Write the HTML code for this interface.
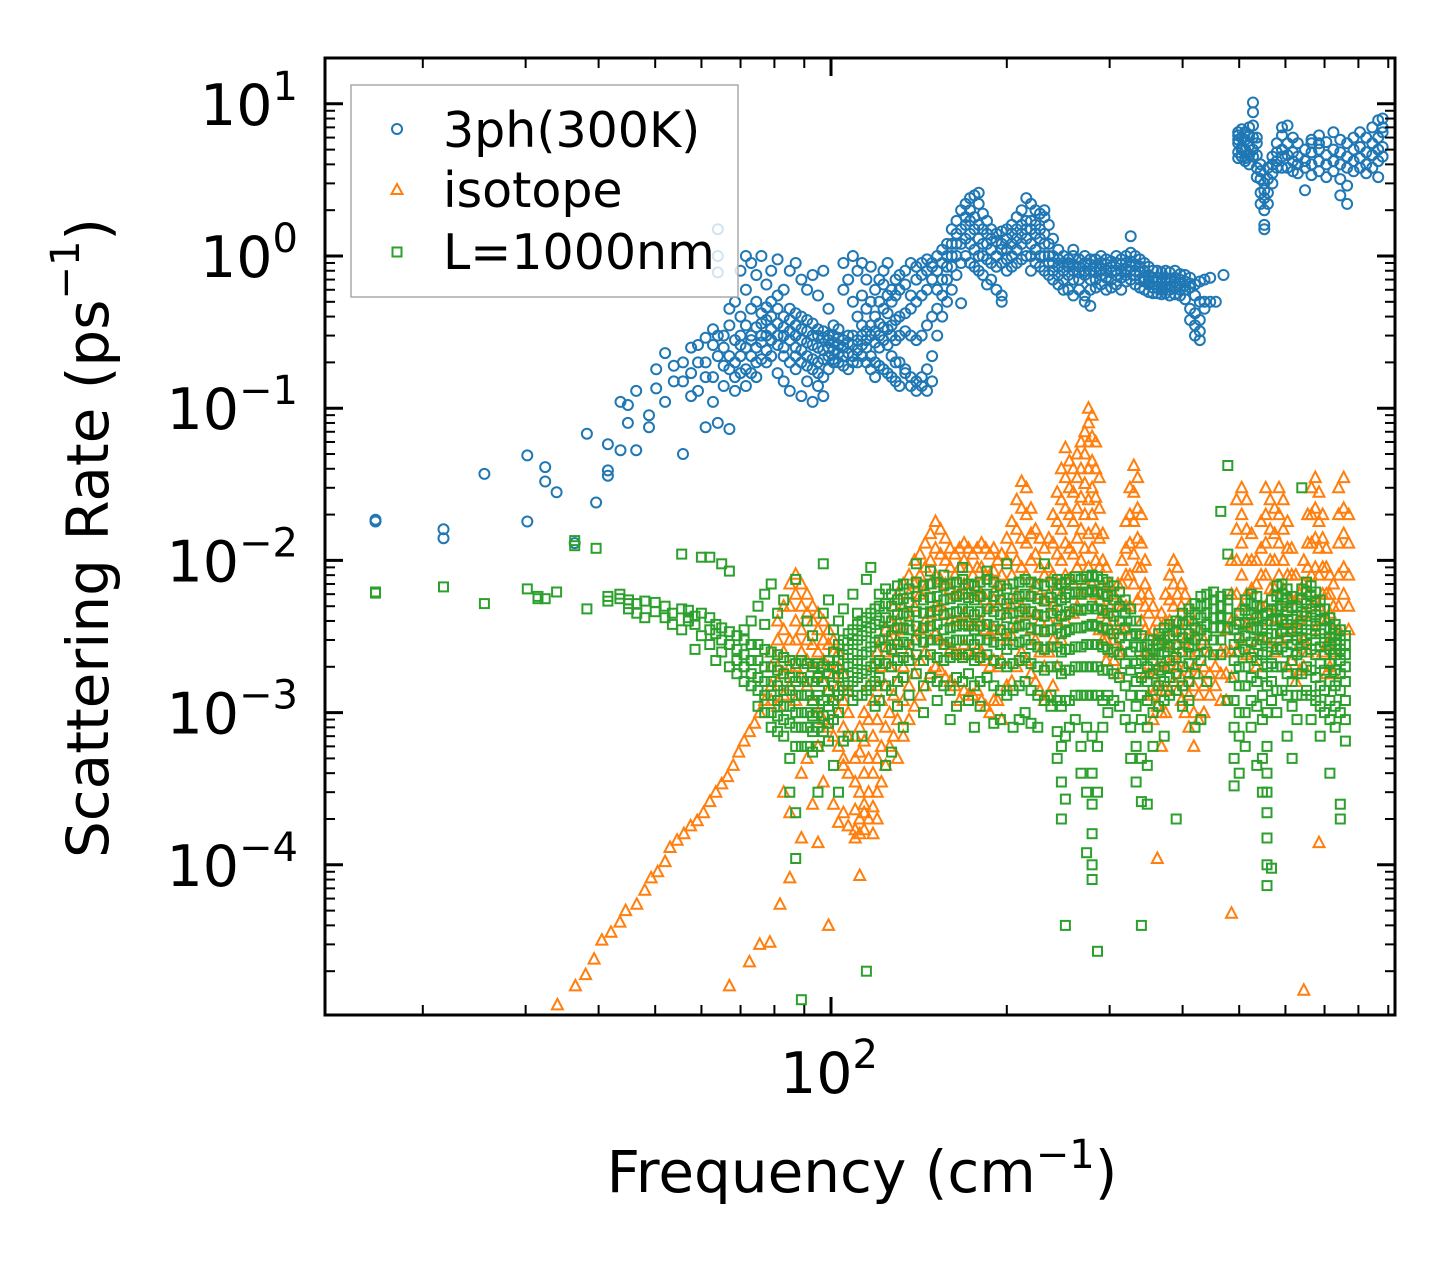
<!DOCTYPE html>
<html><head><meta charset="utf-8">
<style>
html,body{margin:0;padding:0;background:#fff;}
svg{display:block;font-family:"DejaVu Sans","Liberation Sans",sans-serif;}
</style></head>
<body>
<svg id="chart" xmlns="http://www.w3.org/2000/svg" width="1455" height="1265" viewBox="0 0 1455 1265">
<rect x="0" y="0" width="1455" height="1265" fill="#fff"/>
<g id="marks"></g>
<g id="axes"></g>
<text x="92" y="538" transform="rotate(-90 92 538)" text-anchor="middle" font-size="58" fill="#000" dominant-baseline="middle">Scattering Rate (ps<tspan font-size="40" dy="-24">−1</tspan><tspan dy="24">)</tspan></text>
<text x="862" y="1192" text-anchor="middle" font-size="58" fill="#000">Frequency (cm<tspan font-size="40" dy="-24">−1</tspan><tspan dy="24">)</tspan></text>
<g id="legend">
<rect x="351" y="85" width="387" height="212" fill="#fff" fill-opacity="0.8" stroke="#aaa" stroke-width="1.5"/>
<circle cx="397" cy="129" r="5" fill="none" stroke="#1f77b4" stroke-width="2"/>
<text x="443" y="147" font-size="49" fill="#000">3ph(300K)</text>
<polygon points="397,184 402.5,194 391.5,194" fill="none" stroke="#ff7f0e" stroke-width="2"/>
<text x="443" y="207" font-size="49" fill="#000">isotope</text>
<rect x="392.5" y="247.5" width="9" height="9" fill="none" stroke="#2ca02c" stroke-width="2"/>
<text x="443" y="269" font-size="49" fill="#000">L=1000nm</text>
</g>
</svg>
<script>
// Data: [frequency (cm^-1), [scattering rates (ps^-1)...]]
const blueData = [
[16.6,[.018,.0185]],[21.7,[.016,.014]],[25.5,[.037]],[30.2,[.018,.049]],[32.4,[.041,.033]],[33.9,[.028]],[36.4,[.013]],[38.2,[.068]],[39.6,[.024]],[41.5,[.058,.039,.036]],
[43.6,[.053,.11]],[44.9,[.105,.08]],[46.4,[.053,.13]],[48.8,[.075,.09]],[50.2,[.135,.18]],[52,[.23,.11]],[53.8,[.15,.19]],[55.8,[.05,.2,.15]],[57.6,[.12,.17,.25]],[59.2,[.13,.26,.2]],
[61,[.2,.075,.16,.29]],[62.8,[.26,.16,.11,.33]],[64,[1.5,1.0,.78,.08,.22,.3]],[65.5,[.3,.19,.14,.25]],[67,[.073,.22,.45,.18,.35]],[68.5,[.28,.2,.5,.16,.13]],[70,[.22,.3,.8,.4,.17,.26]],
[71.5,[.25,1.0,.6,.35,.18,.14]],[73,[.3,.9,.45,.22,.28,.17]],[74.5,[.34,.75,.5,.25,.2,.16]],[76,[.3,1.0,.42,.27,.21,.36]],[77.5,[.38,.65,.3,.46,.24,.2]],[79,[.33,.8,.5,.28,.4,.22]],
[81,[.36,.95,.45,.3,.26,.55,.17]],[83,[.4,.3,.34,.25,.6,.22,.15]],[85,[.38,.45,.32,.28,.8,.2,.13]],[87,[.35,.42,.3,.25,.9,.22,.18]],[89,[.33,.4,.28,.24,.7,.2,.12]],
[91,[.32,.38,.27,.22,.6,.19,.15]],[93,[.3,.36,.26,.21,.75,.18,.11]],[95,[.3,.33,.25,.2,.55,.17,.14]],[97,[.29,.32,.24,.21,.8,.16,.12]],[99,[.28,.3,.25,.22,.45,.18]],
[101,[.27,.3,.24,.21,.35,.2]],[103,[.26,.29,.23,.33,.2]],[105,[.25,.28,.22,.6,.9,.19]],[107,[.23,.27,.3,.7,.18]],[109,[.22,.26,.2,.5,1.0,.3]],[111,[.24,.28,.4,.8,.2]],
[113,[.26,.3,.35,.55,.9,.22]],[115,[.28,.32,.25,.45,.7,.2]],[117,[.3,.35,.22,.5,.85,.18]],[119,[.32,.27,.4,.6,.2,.16]],[121,[.3,.36,.25,.5,.7,.19]],[123,[.34,.28,.45,.65,.8,.18]],
[125,[.33,.26,.42,.55,.9,.17]],[127,[.35,.3,.22,.5,.6,.16]],[129,[.38,.28,.2,.55,.7,.15]],[131,[.4,.3,.2,.6,.75,.14]],[134,[.42,.32,.18,.65,.8,.17]],[137,[.45,.3,.16,.55,.9,.14]],
[140,[.5,.28,.15,.7,.85,.13]],[143,[.55,.3,.16,.75,.9,.14]],[146,[.6,.35,.18,.8,.95,.13]],[149,[.7,.4,.22,.9,.85,.15]],[152,[.8,.45,.3,1.0,.6]],[155,[.9,.55,.4,1.1,.7]],
[158,[1.0,.7,.5,1.2,.85]],[161,[1.2,.85,.6,1.5,1.0]],[164,[1.4,1.0,1.7,1.2,.75]],[167,[1.5,1.2,2.0,.9,.49]],[170,[1.6,1.3,2.2,1.0,1.8]],[173,[1.7,1.4,2.0,1.2,.9,2.4]],
[176,[1.8,1.5,2.5,1.1,.85]],[179,[1.6,1.3,2.2,1.0,.8,2.6]],[182,[1.5,1.2,1.9,1.0,.75]],[185,[1.4,1.2,1.7,.95,.65]],[188,[1.3,1.1,1.5,.9,.7]],[192,[1.25,1.0,1.4,.85,.6]],
[196,[1.2,1.1,1.45,.9,.55,.5]],[200,[1.3,1.1,1.5,.95,.8]],[204,[1.4,1.2,1.6,1.0,.85]],[208,[1.5,1.3,1.8,1.1,.9]],[212,[1.6,1.4,2.0,1.2,.95]],[216,[1.7,1.5,2.4,1.3,1.0]],
[220,[1.7,1.5,2.2,1.2,1.0,.8]],[224,[1.6,1.4,2.0,1.1,.9]],[228,[1.5,1.3,1.9,1.0,.85]],[232,[1.4,1.2,1.8,1.0,.8,2.0]],[236,[1.2,1.0,1.6,.9,.75]],[240,[1.0,.9,1.3,.8,.7]],
[245,[.95,.85,1.1,.75,.65]],[250,[.9,.8,1.0,.7,.6]],[255,[.9,.85,.95,.75,.6]],[260,[.88,.8,1.0,.7,.55,1.1]],[266,[.85,.78,.95,.7,.6]],[272,[.9,.8,1.0,.75,.55,.5]],
[278,[.88,.8,.95,.7,.6,.47]],[284,[.85,.78,.95,.7,.62]],[290,[.9,.82,1.0,.75,.65]],[296,[.88,.8,.95,.72,.6]],[302,[.85,.78,.92,.7,.62]],[308,[.9,.8,1.0,.75,.65]],
[314,[.88,.8,.95,.72,.6]],[320,[.9,.82,1.0,.75,.68]],[326,[.92,.85,1.05,.8,.7,1.35]],[332,[.88,.8,1.0,.75,.65]],[338,[.85,.78,.95,.7,.62]],[344,[.8,.72,.9,.68,.6]],
[350,[.75,.7,.85,.65,.58]],[356,[.72,.68,.8,.62,.57]],[362,[.72,.68,.8,.62,.57]],[368,[.7,.66,.78,.6,.56]],[374,[.72,.68,.8,.62,.57]],[380,[.7,.66,.78,.6,.55]],
[388,[.72,.68,.8,.62,.56]],[396,[.7,.66,.76,.6,.55]],[404,[.68,.64,.75,.6,.52]],[412,[.66,.62,.72,.45,.38]],[420,[.65,.42,.35,.3,.55]],[428,[.68,.38,.32,.28,.5]],
[436,[.7,.5,.45]],[446,[.5,.72]],[456,[.5]],[470,[.75]],
[498,[6.5,5.5,4.8,5.8,4.4,6.2]],[505,[6.0,5.2,4.5,6.8,5.0]],[512,[5.8,5.0,4.4,6.5,4.2]],[520,[6.2,5.3,4.6,7.0,4.0]],[528,[7.2,6.0,5.0,8.8,10.2,4.5]],
[536,[5.5,4.6,3.8,6.0,3.3]],[544,[4.0,3.2,2.6,3.6,2.2]],[552,[3.0,2.4,2.0,2.7,1.5,1.6]],[560,[3.2,2.6,3.8,2.2]],[570,[4.0,3.5,4.5,3.0]],[580,[4.8,4.2,5.5,3.8]],
[592,[5.0,4.5,6.2,3.8,7.0]],[605,[5.5,4.6,7.2,3.8]],[618,[4.8,4.2,6.0,3.6]],[630,[4.5,4.0,5.5,3.5]],[648,[4.2,3.8,5.0,2.7]],[665,[4.8,4.0,5.8,3.4,5.5]],
[685,[5.0,4.2,6.2,3.6,5.5]],[705,[4.6,4.0,5.6,3.3]],[725,[5.0,4.2,6.5,3.6]],[745,[4.8,4.0,5.8,3.2,2.5]],[765,[4.5,3.8,5.5,2.9,2.2]],[785,[5.0,4.2,6.0,3.6]],
[805,[5.2,4.4,6.5,3.8]],[825,[4.8,4.0,6.0,3.5]],[845,[5.5,4.6,7.0,3.8]],[865,[6.0,5.0,7.8,4.2,3.3]],[880,[6.5,5.2,8.0,4.5,7.0]]
];
const orangeData = [
[34,[1.2e-5]],[36.5,[1.6e-5]],[38,[1.9e-5]],[39.3,[2.4e-5]],[40.5,[3.2e-5]],[42,[3.6e-5]],[43.5,[4.2e-5]],[44.5,[5.0e-5]],[46.5,[5.5e-5]],[48,[6.8e-5]],
[49.2,[8.2e-5]],[50.5,[9.0e-5]],[52,[1.05e-4]],[53,[1.3e-4]],[54.5,[1.45e-4]],[56,[1.6e-4]],[57.5,[1.8e-4]],[59,[1.95e-4]],[60.5,[2.2e-4]],[62,[2.6e-4]],
[63.5,[3.0e-4]],[65,[3.4e-4]],[66.5,[3.8e-4]],[67,[1.6e-5]],[68,[4.5e-4]],[69.5,[5.5e-4]],[71,[6.5e-4]],[72.5,[7.5e-4,2.3e-5]],[74,[8.5e-4]],[75.5,[1.0e-3,3e-5]],[77,[1.2e-3]],
[78.6,[3.1e-5]],[81.8,[5.5e-5]],
[79,[.0015,.002,.0012,.0025]],[81,[.002,.003,.0016,.0011,.004]],[83,[.0025,.0035,.005,.0018,.0013,3e-4]],[85,[.003,.005,.007,.002,.0015,2.2e-4,8.2e-5]],
[87,[.004,.006,.0081,.003,.002,.0012]],[89,[.0035,.005,.007,.0025,.0017,4e-4,1.5e-4]],[91,[.003,.0045,.006,.0022,.0015,5e-4]],[93,[.0028,.004,.005,.002,.0012,2.5e-4]],
[95,[.0025,.0035,.0045,.0018,.001,6e-4,1.4e-4]],[97,[.0022,.003,.004,.0016,.0009,3.5e-4]],[99,[.002,.0028,.0035,.0014,8e-4,4e-5]],[101,[.0018,.0025,.003,.0012,7e-4,2.5e-4]],
[103,[.0015,.002,.0025,.001,6e-4,1.9e-4]],[105,[.0012,.0018,8e-4,5e-4,2.2e-4,4.5e-4]],[107,[.001,.0014,7e-4,4e-4,1.8e-4]],[110,[7e-4,5e-4,3.5e-4,2.3e-4,1.7e-4,1.5e-4]],
[112,[8e-4,5.5e-4,3e-4,2e-4,1.6e-4,8.5e-5]],[114,[.001,6.5e-4,4e-4,2.2e-4,1.7e-4,2.5e-4]],[116,[.0015,9e-4,5e-4,3e-4,2e-4]],[118,[.002,.0012,7e-4,4e-4,2.4e-4,1.6e-4]],
[120,[.0025,.0015,9e-4,5e-4,3e-4,2e-4]],[122,[.003,.002,.0012,6e-4,3.5e-4]],[124,[.0035,.0025,.0015,8e-4,4.5e-4]],[126,[.004,.003,.002,.001,6e-4]],
[128,[.005,.0035,.0025,.0013,7e-4]],[130,[.006,.004,.003,.0016,9e-4,5e-4]],[133,[.007,.005,.0035,.002,.0012,7e-4]],[136,[.008,.006,.004,.0025,.0015,9e-4]],
[139,[.01,.007,.005,.003,.0018,.0011]],[142,[.011,.008,.006,.0035,.0022,.0013]],[145,[.013,.009,.0065,.004,.0025,.0015]],[148,[.015,.01,.007,.0045,.003,.0018]],
[151,[.018,.012,.008,.005,.0033,.002]],[154,[.016,.011,.0075,.005,.003,.0019]],[157,[.014,.01,.007,.0045,.0028,.0017]],[160,[.012,.009,.0065,.004,.0026,.0016]],
[163,[.011,.008,.006,.004,.0025,.0015]],[166,[.012,.009,.006,.004,.0024,.0012]],[169,[.013,.01,.007,.0045,.0028,.0014]],[172,[.012,.009,.0065,.004,.0025,.0013]],
[175,[.011,.008,.006,.0038,.0024,.0013]],[178,[.012,.009,.0065,.004,.0026,.0014]],[181,[.013,.009,.006,.004,.0025,.0012]],[184,[.012,.008,.0055,.0035,.0022,.0011]],
[187,[.011,.008,.005,.0033,.002,.001]],[190,[.012,.0085,.0055,.0035,.0022,.0012]],[193,[.01,.007,.005,.0032,.002,.0012]],[196,[.011,.008,.0055,.0035,.0022,9e-4]],
[200,[.014,.01,.007,.0045,.003,.0015]],[204,[.018,.012,.008,.005,.0032,.0016]],[208,[.025,.016,.01,.006,.0038,.002]],[212,[.033,.022,.014,.009,.005,.0025]],
[216,[.03,.02,.013,.008,.0045,.0022]],[220,[.022,.015,.01,.006,.0035,.0018]],[224,[.016,.011,.007,.0045,.003,.0016]],[228,[.014,.009,.006,.004,.0025,.0014]],
[232,[.012,.008,.0055,.0035,.002,.0012]],[236,[.014,.009,.006,.004,.0025,.0013]],[240,[.02,.013,.008,.005,.003,.0015]],[244,[.028,.018,.011,.007,.004,.002]],
[248,[.04,.025,.016,.01,.006,.003]],[252,[.055,.035,.022,.013,.008,.004]],[256,[.045,.03,.02,.012,.0075,.0045]],[260,[.04,.028,.018,.011,.007,.0045]],
[264,[.05,.035,.022,.014,.009,.005]],[268,[.06,.04,.026,.016,.01,.006]],[272,[.07,.05,.032,.02,.012,.007]],[276,[.1,.08,.06,.04,.025,.015,.009]],
[280,[.09,.065,.045,.03,.02,.012,.007]],[284,[.06,.04,.026,.016,.01,.006]],[288,[.035,.022,.014,.009,.0055,.0035]],[292,[.015,.01,.007,.0045,.003]],
[296,[.009,.006,.004,.003,.0022]],[300,[.007,.005,.0035,.0025]],[305,[.006,.004,.003,.0022]],[310,[.007,.005,.0035,.0025,.0018]],[315,[.01,.007,.005,.0035,.0025]],
[320,[.018,.012,.008,.005,.0035]],[325,[.03,.02,.013,.008,.005]],[330,[.042,.028,.018,.011,.007]],[335,[.035,.022,.014,.009,.0055]],[340,[.02,.013,.009,.006,.004]],
[345,[.01,.007,.005,.0035,.0025,.0018]],[350,[.006,.0045,.0032,.0024,.0018,.0013]],[356,[.005,.0035,.0025,.0018,.0013,9e-4]],[362,[.004,.003,.002,.0015,.0011,1.1e-4]],
[368,[.0045,.003,.002,.0014,.001,6e-4]],[374,[.006,.004,.0028,.002,.0014,.001]],[380,[.008,.0055,.004,.0028,.002,.0014]],[386,[.01,.007,.005,.0035,.0024,.0016]],
[392,[.009,.006,.004,.0028,.002,.0014]],[398,[.007,.005,.0035,.0025,.0017,.0012]],[404,[.006,.004,.003,.002,.0015,.001]],[410,[.005,.0035,.0025,.0018,.0013,8e-4]],
[418,[.004,.003,.002,.0015,.001,6e-4]],[426,[.0035,.0025,.0018,.0013,9e-4]],[435,[.003,.002,.0015,.001]],[445,[.0025,.0018,.0013]],[455,[.002,.0015]],
[465,[.0025,.0018,.0012]],[475,[.0035,.0025,.0018,.0012]],[485,[.01,.006,.004,.0025,.0017,4.8e-5]],[495,[.025,.016,.01,.006,.004,.0025]],
[505,[.03,.02,.013,.008,.005,.003]],[515,[.025,.016,.01,.006,.0038,.0024]],[525,[.015,.01,.0065,.004,.0025]],[535,[.01,.007,.0045,.003,.002]],
[545,[.018,.012,.008,.005,.003]],[555,[.03,.02,.013,.008,.005,.003]],[565,[.025,.016,.01,.0065,.004]],[575,[.022,.015,.01,.0065,.004,.0025]],
[585,[.03,.02,.013,.008,.005,.003]],[595,[.025,.016,.01,.0065,.004]],[605,[.018,.012,.008,.005,.0032,.002]],[615,[.012,.008,.0055,.0035,.0022]],
[625,[.008,.0055,.0038,.0025,.0016]],[635,[.006,.004,.0028,.0019]],[645,[.01,.007,.0045,.003,.002,1.5e-5]],[655,[.02,.013,.009,.006,.004,.0025]],
[665,[.03,.02,.013,.008,.005]],[675,[.035,.022,.014,.009,.0055,.0035]],[685,[.028,.018,.012,.008,.005,1.4e-4]],[695,[.02,.014,.009,.006,.004,.0025]],
[705,[.012,.009,.006,.004,.0028,.0018]],[715,[.008,.006,.0045,.003,.002]],[725,[.007,.005,.0035,.0025,.0018]],[740,[.03,.02,.013,.008,.005,.0035]],
[755,[.035,.022,.015,.009,.006]],[770,[.02,.013,.008,.005,.0035]]
];
const greenData = [
[16.6,[.0061,.0062]],[21.7,[.0067]],[25.5,[.0052]],[30.2,[.0065]],[31.5,[.0056,.0058]],[32.4,[.0056]],[33.9,[.0062]],[36.4,[.0135,.0125]],[38.2,[.0048]],[39.6,[.012]],
[41.5,[.0058,.0054]],[43.5,[.0056,.006]],[45,[.0052,.0055,.0048]],[46.5,[.0045,.0052]],[48,[.0054,.0042]],[50,[.0053,.0046]],[52,[.0042,.005]],[53.5,[.0045,.0038]],
[55.5,[.0048,.0035,.011]],[57,[.0047,.004,.0042]],[58.5,[.0043,.0038,.0026]],[60,[.0045,.0032,.0105]],[62,[.0042,.0035,.0028,.0105]],[63.5,[.0038,.0033,.0022]],
[65,[.0036,.003,.0095,.0025]],[67,[.0034,.0028,.0085,.002]],[69,[.0032,.0026,.0022,.0018]],[71,[.003,.0024,.002,.0016,.0035]],[73,[.0028,.0022,.0018,.0015,.004,.0028]],
[75,[.0028,.0022,.0017,.0014,.0011,.005]],[77,[.0026,.002,.0016,.0013,.001,.006,.0038]],[79,[.0025,.002,.0016,.0013,.001,8e-4,.007]],[81,[.0024,.0019,.0015,.0012,9.5e-4,7.5e-4,.0045]],
[83,[.0023,.0018,.0014,.0011,9e-4,7e-4,.0055]],[85,[.0022,.0017,.0014,.0011,8.5e-4,5e-4,3e-4]],[87,[.0021,.0016,.0013,.001,8e-4,6e-4,2.2e-4,1.1e-4,.0075]],
[89,[.0022,.0017,.0013,.001,8e-4,6e-4,1.3e-5]],[91,[.0021,.0016,.0013,.001,8e-4,6e-4,.004]],[93,[.002,.0016,.0012,9.5e-4,7.5e-4,5.5e-4,.0032]],
[95,[.0021,.0017,.0013,.001,8e-4,6e-4,3e-4]],[97,[.002,.0016,.0012,9.5e-4,7.5e-4,.0045,.0095]],[99,[.0022,.0018,.0014,.0011,8.5e-4,6.5e-4,.0055]],
[101,[.0025,.002,.0015,.0012,9e-4,.0035,4.5e-4]],[103,[.0028,.0022,.0017,.0013,.001,.004,3e-4]],[105,[.003,.0024,.0018,.0014,6.5e-4,.0048]],[107,[.0033,.0026,.002,.0015,7e-4]],
[109,[.0035,.0028,.0021,.0016,.0012,.006]],[111,[.0038,.003,.0022,.0017,.0013,.0045]],[113,[.004,.0032,.0024,.0018,.0013,7e-4]],[115,[.0042,.0034,.0025,.0019,.0014,.0075,2e-5]],
[117,[.0045,.0036,.0027,.002,.0015,.009]],[119,[.0048,.0038,.0029,.0021,.0016,.0011]],[121,[.005,.004,.003,.0022,.0017,.0012,.006]],
[124,[.0065,.0052,.0042,.0034,.0027,.0021,.0015,4.5e-4]],[127,[.006,.005,.004,.0032,.0026,.002,.0014,5.5e-4]],[130,[.0068,.0055,.0044,.0036,.0028,.0022,.0016,.0011]],
[133,[.007,.0056,.0045,.0036,.0029,.0023,.0017,8e-4]],[136,[.0065,.0053,.0043,.0035,.0028,.0022,.0013]],[140,[.0072,.0058,.0046,.0037,.003,.0024,.0018,.0095]],
[144,[.0068,.0055,.0045,.0036,.0029,.0022,.0015,.001]],[148,[.007,.0057,.0046,.0037,.003,.0024,.0017,.0085]],[152,[.0072,.0058,.0047,.0038,.003,.0023,.0016,.0012]],
[156,[.0068,.0055,.0044,.0035,.0028,.0022,.0015,.008]],[160,[.007,.0056,.0045,.0036,.0029,.0023,.0014,9e-4]],[164,[.0072,.0058,.0046,.0037,.003,.0024,.0017,.0011]],
[168,[.0075,.006,.0048,.0038,.003,.0023,.0016,.009]],[172,[.007,.0057,.0046,.0037,.003,.0024,.0018,.0012]],[176,[.0068,.0055,.0044,.0035,.0028,.0022,.0015,8e-4]],
[180,[.0072,.0058,.0046,.0037,.003,.0023,.0016,.0011]],[185,[.0075,.006,.0048,.0038,.003,.0024,.0017,.0085]],[190,[.0072,.0058,.0046,.0037,.0029,.0022,.0015,8.5e-4]],
[195,[.0068,.0055,.0044,.0035,.0028,.0021,.0014,9e-4]],[200,[.0065,.0052,.0042,.0033,.0026,.002,.0013,.0095]],[205,[.007,.0056,.0045,.0036,.0028,.0021,.0014,8e-4]],
[210,[.0072,.0058,.0046,.0037,.0029,.0022,.0015,9e-4]],[215,[.0075,.006,.0048,.0038,.003,.0023,.0016,.001]],[220,[.0072,.0058,.0046,.0036,.0028,.0021,.0014,8.5e-4]],
[226,[.007,.0056,.0044,.0035,.0027,.002,.0013,8e-4]],[232,[.0068,.0054,.0043,.0034,.0026,.0019,.0012,.0095]],[238,[.0072,.0057,.0045,.0035,.0027,.002,.0013,.0011]],
[244,[.0075,.006,.0047,.0036,.0027,.002,.0012,7.5e-4,5e-4]],[248,[.007,.0055,.0043,.0033,.0025,.0018,.0011,6e-4,3.5e-4,2e-4]],
[252,[.0072,.0057,.0044,.0034,.0026,.0019,.0012,7e-4,2.7e-4,4e-5]],[256,[.0075,.006,.0046,.0035,.0026,.0019,.0012,8e-4]],
[262,[.0078,.0062,.0048,.0036,.0027,.002,.0013,9e-4]],[268,[.0075,.006,.0047,.0036,.0027,.002,.0013,6e-4,4e-4]],
[274,[.0078,.0062,.0048,.0037,.0028,.002,.0013,8e-4,3e-4,1.2e-4]],[280,[.008,.0064,.005,.0038,.0028,.002,.0013,7e-4,4e-4,2.5e-4,1.6e-4,1e-4,8e-5]],
[286,[.0078,.0062,.0048,.0037,.0028,.002,.0013,6e-4,3e-4,2.7e-5]],[292,[.0075,.006,.0047,.0036,.0027,.0019,.0012,8e-4]],
[298,[.0072,.0058,.0045,.0035,.0026,.0019,.0013,.001]],[305,[.0068,.0055,.0043,.0033,.0025,.0018,.0012]],[312,[.0062,.005,.004,.0031,.0024,.0017,.0011]],
[319,[.0055,.0045,.0036,.0028,.0021,.0015,9e-4]],[326,[.0048,.004,.0032,.0025,.0019,.0013,8e-4,5e-4]],[333,[.004,.0033,.0027,.0021,.0016,.0011,6e-4,3.5e-4]],
[340,[.0032,.0027,.0022,.0017,.0013,9e-4,5e-4,2.6e-4,4e-5]],[348,[.0028,.0024,.002,.0016,.0012,8e-4,4.5e-4,2.5e-4]],[356,[.003,.0026,.0022,.0018,.0014,.001,6e-4]],
[364,[.0033,.0028,.0024,.0019,.0015,.0011]],[372,[.0036,.003,.0025,.002,.0016,.0012,7e-4]],[380,[.0038,.0032,.0027,.0022,.0017,.0013]],
[390,[.004,.0034,.0028,.0023,.0018,.0014,2e-4]],[400,[.0045,.0038,.0031,.0025,.002,.0015,.0011]],[410,[.0048,.004,.0033,.0027,.0021,.0016,.0012,.0028]],
[420,[.0052,.0044,.0036,.003,.0024,.0018,8e-4]],[430,[.0058,.005,.0042,.0035,.0028,.0022,9e-4]],[440,[.006,.0052,.0045,.0038,.0032,.0025,.0016]],
[452,[.0055,.0048,.0042,.0036,.003,.0024,.0062]],[465,[.0058,.005,.0043,.0036,.003,.0024,.0042,.021]],[478,[.006,.0055,.0048,.0042,.0036,.011,.0012,.042]],
[490,[.0035,.0028,.0022,.0017,.0012,8e-4,5e-4,3.3e-4]],[500,[.0045,.0038,.0031,.0025,.002,.0015,.001,7e-4,4e-4]],[512,[.0055,.0047,.0039,.0032,.0026,.002,.0015,.001,6e-4]],
[524,[.006,.0052,.0044,.0036,.0029,.0023,.0017,.0012,8e-4]],[536,[.0058,.005,.0042,.0035,.0028,.0022,.0016,.0011,4.5e-4]],
[548,[.005,.0043,.0036,.003,.0024,.0018,.0013,9e-4,5e-4,3e-4]],[558,[.0045,.0038,.0031,.0025,.002,.0015,.001,6e-4,4e-4,3e-4,2.2e-4,1.5e-4,1e-4,7.3e-5]],
[568,[.0055,.0047,.004,.0033,.0027,.0021,.0016,.0012,9.5e-5]],[580,[.0068,.0058,.0048,.004,.0033,.0026,.002,.0014,.001]],[592,[.007,.006,.005,.0041,.0034,.0027,.002,.0014]],
[604,[.0065,.0055,.0046,.0038,.0031,.0025,.0018,.0013,7e-4]],[616,[.0058,.0049,.0041,.0034,.0028,.0022,.0016,.0011,5e-4]],[628,[.005,.0043,.0036,.003,.0024,.0018,.0013,9e-4]],
[640,[.0065,.0055,.0046,.0038,.0031,.0025,.0018,.0013,.03]],[652,[.0072,.0062,.0052,.0043,.0035,.0028,.002,.0014]],[664,[.0068,.0058,.0048,.004,.0033,.0026,.0019,.0013,9e-4]],
[676,[.0062,.0053,.0044,.0037,.003,.0024,.0017,.0012]],[688,[.0055,.0047,.004,.0033,.0027,.0021,.0015,.0011,7e-4]],[700,[.0048,.0041,.0035,.0029,.0024,.0019,.0014,.001]],
[715,[.0042,.0036,.0031,.0026,.0021,.0016,.0012,9e-4,4e-4]],[730,[.0038,.0033,.0028,.0024,.0019,.0015,.0011,8e-4]],[745,[.0035,.003,.0026,.0022,.0018,.0014,.001,2.5e-4,2e-4]],
[760,[.0032,.0028,.0024,.002,.0016,.0012,9e-4,6.5e-4]]
];
const yTickExps = [1,0,-1,-2,-3,-4];
const xTickExps = [2];

const NS = 'http://www.w3.org/2000/svg';
const X0 = 325, X1 = 1395, Y0 = 58, Y1 = 1015;
function xScale(f){ return 831 + 584*(Math.log10(f) - 2); }
function yScale(v){ return 256 - 152.2*Math.log10(v); }
function inPlot(x,y){ return x>=X0-5 && x<=X1+5 && y>=Y0-5 && y<=Y1+5; }

const marks = document.getElementById('marks');
const axes = document.getElementById('axes');

const defs = document.createElementNS(NS,'defs');
const cp = document.createElementNS(NS,'clipPath');
cp.setAttribute('id','plotclip');
const cr = document.createElementNS(NS,'rect');
cr.setAttribute('x',X0); cr.setAttribute('y',Y0); cr.setAttribute('width',X1-X0); cr.setAttribute('height',Y1-Y0);
cp.appendChild(cr); defs.appendChild(cp);
document.getElementById('chart').insertBefore(defs, marks);
marks.setAttribute('clip-path','url(#plotclip)');

const gBlue = document.createElementNS(NS,'g');


gBlue.setAttribute('fill','none'); gBlue.setAttribute('stroke','#1f77b4'); gBlue.setAttribute('stroke-width','2');
const gOrange = document.createElementNS(NS,'g');


gOrange.setAttribute('fill','none'); gOrange.setAttribute('stroke','#ff7f0e'); gOrange.setAttribute('stroke-width','2');
const gGreen = document.createElementNS(NS,'g');


gGreen.setAttribute('fill','none'); gGreen.setAttribute('stroke','#2ca02c'); gGreen.setAttribute('stroke-width','2');
marks.appendChild(gBlue); marks.appendChild(gOrange); marks.appendChild(gGreen);

blueData.forEach(function(col){
  col[1].forEach(function(v){
    const x = xScale(col[0]), y = yScale(v);
    if(!inPlot(x,y)) return;
    const c = document.createElementNS(NS,'circle');
    
    
    c.setAttribute('cx',x.toFixed(1)); c.setAttribute('cy',y.toFixed(1)); c.setAttribute('r','5');
    gBlue.appendChild(c);
  });
});
orangeData.forEach(function(col){
  col[1].forEach(function(v){
    const x = xScale(col[0]), y = yScale(v);
    if(!inPlot(x,y)) return;
    const p = document.createElementNS(NS,'polygon');
    
    
    p.setAttribute('points',x.toFixed(1)+','+(y-6).toFixed(1)+' '+(x+5.5).toFixed(1)+','+(y+4.5).toFixed(1)+' '+(x-5.5).toFixed(1)+','+(y+4.5).toFixed(1));
    gOrange.appendChild(p);
  });
});
greenData.forEach(function(col){
  col[1].forEach(function(v){
    const x = xScale(col[0]), y = yScale(v);
    if(!inPlot(x,y)) return;
    const r = document.createElementNS(NS,'rect');
    
    
    r.setAttribute('x',(x-4.5).toFixed(1)); r.setAttribute('y',(y-4.5).toFixed(1)); r.setAttribute('width','9'); r.setAttribute('height','9');
    gGreen.appendChild(r);
  });
});

function line(x1,y1,x2,y2,w,name){
  const l = document.createElementNS(NS,'line');
  
  
  l.setAttribute('x1',x1); l.setAttribute('y1',y1); l.setAttribute('x2',x2); l.setAttribute('y2',y2);
  l.setAttribute('stroke','#000'); l.setAttribute('stroke-width',w);
  axes.appendChild(l);
}
for(let e=-5;e<=1;e++){
  for(let m=1;m<=9;m++){
    const y = yScale(m*Math.pow(10,e));
    if(y<Y0||y>Y1) continue;
    const len = m===1?18:10;
    line(X0,y,X0+len,y,m===1?3:2,'y-tick');
    line(X1,y,X1-len,y,m===1?3:2,'y-tick-right');
  }
}
for(let e=1;e<=2;e++){
  for(let m=1;m<=9;m++){
    const x = xScale(m*Math.pow(10,e));
    if(x<X0||x>X1) continue;
    const len = m===1?18:10;
    line(x,Y1,x,Y1-len,m===1?3:2,'x-tick');
    line(x,Y0,x,Y0+len,m===1?3:2,'x-tick-top');
  }
}
const fr = document.createElementNS(NS,'rect');


fr.setAttribute('x',X0); fr.setAttribute('y',Y0); fr.setAttribute('width',X1-X0); fr.setAttribute('height',Y1-Y0);
fr.setAttribute('fill','none'); fr.setAttribute('stroke','#000'); fr.setAttribute('stroke-width','3');
axes.appendChild(fr);

yTickExps.forEach(function(e){
  const y = yScale(Math.pow(10,e));
  const t = document.createElementNS(NS,'text');
  
  
  t.setAttribute('x','298'); t.setAttribute('y',(y+21).toFixed(1));
  t.setAttribute('text-anchor','end'); t.setAttribute('font-size','57'); t.setAttribute('fill','#000');
  const s = e<0 ? '\u2212'+(-e) : String(e);
  t.innerHTML = '10<tspan font-size="40" dy="-25">'+s+'</tspan>';
  axes.appendChild(t);
});
xTickExps.forEach(function(e){
  const x = xScale(Math.pow(10,e));
  const t = document.createElementNS(NS,'text');
  
  
  t.setAttribute('x',(x-2).toFixed(1)); t.setAttribute('y','1093');
  t.setAttribute('text-anchor','middle'); t.setAttribute('font-size','57'); t.setAttribute('fill','#000');
  t.innerHTML = '10<tspan font-size="40" dy="-25">'+e+'</tspan>';
  axes.appendChild(t);
});
</script>
</body></html>
